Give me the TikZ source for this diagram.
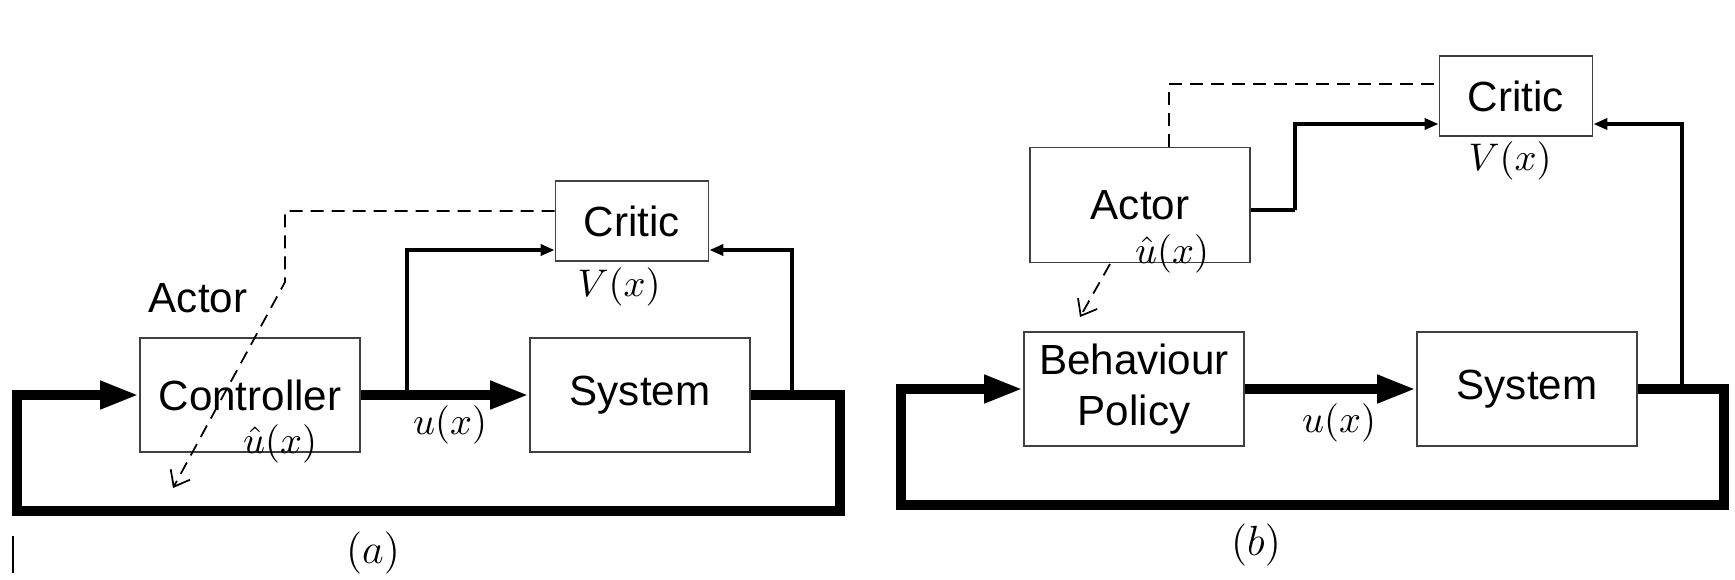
\documentclass[tikz,border=0pt]{standalone}
\usepackage{fontspec}
\setmainfont{Liberation Sans}
\usetikzlibrary{arrows.meta}
\begin{document}
\begin{tikzpicture}
[
  blk/.style={draw=black!75,line width=0.5pt,minimum width=2.2cm,minimum height=1.14cm,
    inner sep=0pt,align=center,font=\fontsize{12}{14.5}\selectfont},
  critbox/.style={blk,minimum width=1.53cm,minimum height=0.8cm},
  txt/.style={inner sep=0pt,font=\fontsize{12}{14.5}\selectfont},
  lbl/.style={inner sep=0pt,font=\fontsize{11}{13}\selectfont},
  bus/.style={line width=2.8pt,-{Triangle[length=3.9mm,width=2.6mm]}},
  sig/.style={line width=1.1pt,-{Triangle[length=1.4mm,width=1.1mm]}},
  upd/.style={line width=0.5pt,dash pattern=on 1.3mm off 0.8mm,-{Straight Barb[length=1.4mm,width=2.2mm]}}
]
\useasboundingbox (0,0) rectangle (17.35,-5.79);

% (a) actor inside the loop
\node[blk](ctrla) at (2.50,-3.95) {Controller};
\node[blk](sysa) at (6.40,-3.95) {System};
\node[critbox](crita) at (6.32,-2.21) {Critic};
\node[txt](acta) at (1.98,-2.98) {Actor};
\node[lbl](uhata) at (2.80,-4.43) {$\hat{u}\bigl(x\bigr)$};
\node[lbl](ua) at (4.50,-4.24) {$u\bigl(x\bigr)$};
\node[lbl](va) at (6.19,-2.86) {$V\bigl(x\bigr)$};
\node[lbl,font=\fontsize{12}{14}\selectfont](capa) at (3.73,-5.53) {$(a)$};

\coordinate (ja) at (4.07,-3.95);
\coordinate (ka) at (7.92,-3.95);
\coordinate (ra) at (8.40,-5.11);
\coordinate (la) at (0.17,-5.11);
\coordinate (da) at (2.85,-2.82);
\coordinate (ea) at (1.73,-4.88);

\draw[bus] (ctrla.east) -- (sysa.west);
\draw[bus] (sysa.east) -| (ra) -- (la) |- (ctrla.west);
\draw[sig] (ja) |- ([yshift=-2.9mm]crita.west);
\draw[sig] (ka) |- ([yshift=-2.9mm]crita.east);
\draw[upd] ([yshift=1mm]crita.west) -| (da) -- (ea);
\draw[line width=0.4pt] (0.13,-5.36) -- (0.13,-5.73);

% (b) actor outside the loop
\node[blk](behb) at (11.34,-3.89) {Behaviour\\Policy};
\node[blk](sysb) at (15.27,-3.89) {System};
\node[blk,minimum height=1.15cm](actb) at (11.40,-2.05) {Actor};
\node[critbox](critb) at (15.16,-0.96) {Critic};
\node[lbl](uhatb) at (11.72,-2.53) {$\hat{u}\bigl(x\bigr)$};
\node[lbl](ub) at (13.39,-4.22) {$u\bigl(x\bigr)$};
\node[lbl](vb) at (15.10,-1.60) {$V\bigl(x\bigr)$};
\node[lbl,font=\fontsize{12}{14}\selectfont](capb) at (12.56,-5.45) {$(b)$};

\coordinate (jb) at (12.95,-2.10);
\coordinate (kb) at (16.82,-3.89);
\coordinate (rb) at (17.24,-5.05);
\coordinate (lb) at (9.01,-5.05);
\coordinate (db) at (11.10,-2.64);
\coordinate (eb) at (10.80,-3.17);

\draw[bus] (behb.east) -- (sysb.west);
\draw[bus] (sysb.east) -| (rb) -- (lb) |- (behb.west);
\draw[sig] ([yshift=-0.5mm]actb.east) -| (jb) |- ([yshift=-2.8mm]critb.west);
\draw[sig] (kb) |- ([yshift=-2.8mm]critb.east);
\draw[upd,-] ([xshift=2.9mm]actb.north) |- ([yshift=1.2mm]critb.west);
\draw[upd] (db) -- (eb);

\end{tikzpicture}
\end{document}
